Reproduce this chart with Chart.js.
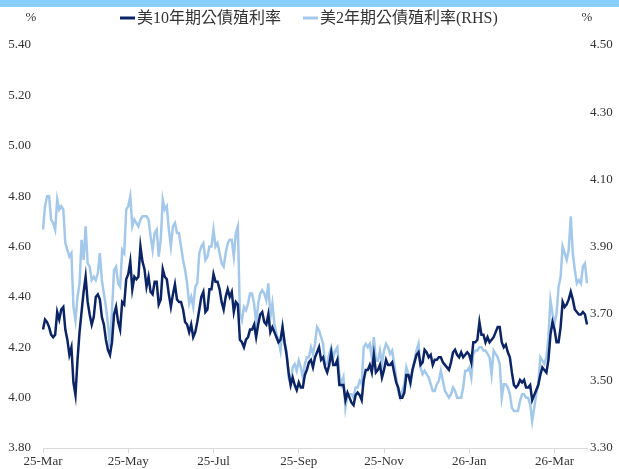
<!DOCTYPE html>
<html>
<head>
<meta charset="utf-8">
<script src="https://cdn.jsdelivr.net/npm/chart.js@4.4.1/dist/chart.umd.min.js"></script>
<style>
  html, body { margin: 0; padding: 0; background: #fff; }
  #topband { height: 7px; background: #87cefa; }
  #wrap { width: 619px; height: 462px; position: relative; }
</style>
</head>
<body>
<div id="topband"></div>
<div id="wrap"><canvas id="myChart"></canvas></div>
<script>
// daily closes, 2025-03-13 .. 2026-04
const tickLabels = ['25-Mar', '25-May', '25-Jul', '25-Sep', '25-Nov', '26-Jan', '26-Mar'];
const tickStep = 42;

const yield10y = [
  4.27, 4.31, 4.30, 4.28, 4.25, 4.24, 4.25, 4.34, 4.31, 4.35,
  4.36, 4.27, 4.23, 4.17, 4.20, 4.06, 4.01, 4.15, 4.26, 4.34,
  4.42, 4.48, 4.38, 4.33, 4.29, 4.32, 4.40, 4.41, 4.39, 4.32,
  4.29, 4.23, 4.19, 4.17, 4.22, 4.33, 4.36, 4.30, 4.27, 4.38,
  4.37, 4.47, 4.49, 4.54, 4.43, 4.48, 4.47, 4.48, 4.60, 4.54,
  4.51, 4.44, 4.48, 4.42, 4.41, 4.46, 4.46, 4.37, 4.39, 4.51,
  4.48, 4.47, 4.41, 4.36, 4.41, 4.45, 4.39, 4.38, 4.38, 4.35,
  4.30, 4.29, 4.26, 4.29, 4.24, 4.26, 4.30, 4.35, 4.40, 4.42,
  4.34, 4.35, 4.43, 4.43, 4.49, 4.46, 4.46, 4.43, 4.38, 4.35,
  4.40, 4.43, 4.40, 4.42, 4.34, 4.38, 4.37, 4.23, 4.22, 4.20,
  4.23, 4.24, 4.27, 4.27, 4.29, 4.24, 4.29, 4.33, 4.34, 4.30,
  4.29, 4.33, 4.26, 4.28, 4.26, 4.24, 4.22, 4.23, 4.28, 4.22,
  4.17, 4.10, 4.05, 4.08, 4.05, 4.03, 4.06, 4.04, 4.04, 4.09,
  4.11, 4.14, 4.15, 4.12, 4.16, 4.18, 4.20, 4.15, 4.16, 4.12,
  4.10, 4.13, 4.18, 4.13, 4.13, 4.15, 4.05, 4.05, 4.05, 3.99,
  4.02, 4.00, 3.98, 3.97, 4.01, 4.02, 4.01, 3.99, 4.07, 4.11,
  4.11, 4.13, 4.10, 4.17, 4.10, 4.11, 4.13, 4.08, 4.11, 4.15,
  4.13, 4.13, 4.14, 4.10, 4.06, 4.04, 4.00, 4.00, 4.02, 4.09,
  4.09, 4.06, 4.11, 4.14, 4.17, 4.18, 4.13, 4.14, 4.19, 4.18,
  4.16, 4.17, 4.13, 4.15, 4.15, 4.16, 4.16, 4.14, 4.13, 4.12,
  4.11, 4.14, 4.18, 4.19, 4.17, 4.16, 4.18, 4.16, 4.17, 4.18,
  4.17, 4.14, 4.22, 4.22, 4.23, 4.30, 4.25, 4.25, 4.22, 4.24,
  4.22, 4.23, 4.24, 4.26, 4.28, 4.28, 4.22, 4.20, 4.21, 4.18,
  4.16, 4.10, 4.05, 4.04, 4.05, 4.07, 4.06, 4.07, 4.04, 4.04,
  4.05, 3.99, 4.01, 4.03, 4.05, 4.09, 4.12, 4.11, 4.10, 4.15,
  4.25, 4.30, 4.27, 4.22, 4.22, 4.28, 4.38, 4.36, 4.37, 4.39,
  4.42, 4.39, 4.35, 4.34, 4.33, 4.33, 4.34, 4.33, 4.29
];

const yield2y = [
  3.95, 4.02, 4.05, 4.05, 3.98, 3.97, 3.95, 4.04, 4.01, 4.02,
  4.01, 3.91, 3.89, 3.87, 3.88, 3.72, 3.68, 3.75, 3.79, 3.92,
  3.86, 3.96, 3.85, 3.84, 3.80, 3.81, 3.80, 3.82, 3.88, 3.80,
  3.76, 3.72, 3.67, 3.60, 3.71, 3.83, 3.84, 3.79, 3.78, 3.89,
  3.88, 4.01, 4.02, 4.05, 3.96, 3.98, 3.97, 3.96, 3.98, 3.99,
  3.99, 3.99, 3.98, 3.93, 3.89, 3.94, 3.95, 3.87, 3.92, 4.04,
  4.01, 4.02, 3.95, 3.90, 3.96, 3.97, 3.94, 3.94, 3.90, 3.86,
  3.83, 3.79, 3.73, 3.75, 3.72, 3.78, 3.79, 3.88, 3.90, 3.91,
  3.86, 3.87, 3.90, 3.90, 3.95, 3.90, 3.91, 3.88, 3.85, 3.84,
  3.88, 3.91, 3.92, 3.92, 3.87, 3.94, 3.96, 3.70, 3.68, 3.72,
  3.71, 3.73, 3.76, 3.76, 3.73, 3.67, 3.73, 3.76, 3.77, 3.76,
  3.74, 3.79, 3.69, 3.73, 3.67, 3.64, 3.62, 3.59, 3.66, 3.61,
  3.59, 3.51, 3.49, 3.54, 3.55, 3.53, 3.56, 3.54, 3.51, 3.55,
  3.57, 3.57, 3.60, 3.58, 3.61, 3.66, 3.65, 3.63, 3.61, 3.55,
  3.55, 3.58, 3.60, 3.57, 3.59, 3.60, 3.52, 3.49, 3.51, 3.42,
  3.46, 3.46, 3.46, 3.45, 3.48, 3.48, 3.50, 3.49, 3.60, 3.61,
  3.60, 3.61, 3.57, 3.63, 3.56, 3.56, 3.59, 3.55, 3.59, 3.61,
  3.60, 3.58, 3.59, 3.55, 3.51, 3.47, 3.45, 3.47, 3.49, 3.54,
  3.52, 3.49, 3.53, 3.56, 3.59, 3.61, 3.54, 3.52, 3.53, 3.52,
  3.51, 3.49, 3.47, 3.47, 3.49, 3.50, 3.53, 3.50, 3.47, 3.46,
  3.45, 3.46, 3.48, 3.47, 3.45, 3.45, 3.45, 3.48, 3.53, 3.53,
  3.54, 3.51, 3.58, 3.59, 3.59, 3.60, 3.60, 3.59, 3.59, 3.58,
  3.57, 3.52, 3.59, 3.58, 3.57, 3.55, 3.45, 3.49, 3.49, 3.48,
  3.46, 3.42, 3.41, 3.41, 3.41, 3.44, 3.46, 3.46, 3.45, 3.45,
  3.43, 3.38, 3.42, 3.46, 3.49, 3.57, 3.56, 3.55, 3.57, 3.63,
  3.74, 3.70, 3.67, 3.70, 3.78, 3.81, 3.90, 3.88, 3.86, 3.89,
  3.99, 3.88, 3.83, 3.79, 3.80, 3.79, 3.84, 3.85, 3.79
];

const labels = yield10y.map((v, i) => (i % tickStep === 0 ? tickLabels[i / tickStep] : ''));

const fontFamily = "'Liberation Serif', 'Noto Sans CJK TC', serif";
const textColor = '#333333';

// "%" unit labels and the line legend across the top
const topLabels = {
  id: 'topLabels',
  afterDraw(chart) {
    const ctx = chart.ctx;
    ctx.save();
    ctx.font = '13px ' + fontFamily;
    ctx.fillStyle = textColor;
    ctx.textAlign = 'center';
    ctx.textBaseline = 'middle';
    ctx.fillText('%', 31, 11);
    ctx.fillText('%', 587, 11);

    ctx.font = '16px ' + fontFamily;
    ctx.textAlign = 'left';
    let x = 120;
    const y = 11;
    chart.data.datasets.forEach((ds) => {
      ctx.strokeStyle = ds.borderColor;
      ctx.lineWidth = 3;
      ctx.beginPath();
      ctx.moveTo(x, y);
      ctx.lineTo(x + 15, y);
      ctx.stroke();
      ctx.fillStyle = textColor;
      ctx.fillText(ds.label, x + 17, y + 1);
      x += 17 + ctx.measureText(ds.label).width + 22;
    });
    ctx.restore();
  }
};

const ctx = document.getElementById('myChart').getContext('2d');
new Chart(ctx, {
  type: 'line',
  data: {
    labels: labels,
    datasets: [
      {
        label: '美10年期公債殖利率',
        data: yield10y,
        yAxisID: 'y',
        borderColor: '#0b2466',
        backgroundColor: '#0b2466',
        borderWidth: 2.5,
        pointRadius: 0,
        tension: 0
      },
      {
        label: '美2年期公債殖利率(RHS)',
        data: yield2y,
        yAxisID: 'y1',
        borderColor: '#a4c8ea',
        backgroundColor: '#a4c8ea',
        borderWidth: 2.5,
        pointRadius: 0,
        tension: 0
      }
    ]
  },
  options: {
    responsive: true,
    maintainAspectRatio: false,
    animation: false,
    layout: { padding: { top: 38, left: 0, right: 0, bottom: 0 } },
    plugins: {
      legend: { display: false },
      tooltip: { enabled: false }
    },
    scales: {
      x: {
        type: 'category',
        grid: {
          drawOnChartArea: false,
          tickLength: 5,
          color: (c) => (c.index % tickStep === 0 ? '#d9d9d9' : 'transparent')
        },
        border: { display: true, color: '#d9d9d9' },
        ticks: {
          autoSkip: false,
          maxRotation: 0,
          padding: 1,
          color: textColor,
          font: { family: fontFamily, size: 13 },
          callback: (v, i) => labels[i]
        },
        afterFit: (scale) => { scale.height = 21; }
      },
      y: {
        position: 'left',
        min: 3.8,
        max: 5.4,
        grid: { display: false, drawTicks: false },
        border: { display: false },
        ticks: {
          stepSize: 0.2,
          padding: 12,
          color: textColor,
          font: { family: fontFamily, size: 13 },
          callback: (v) => v.toFixed(2)
        },
        afterFit: (scale) => { scale.width = 43; }
      },
      y1: {
        position: 'right',
        min: 3.3,
        max: 4.5,
        grid: { display: false, drawTicks: false },
        border: { display: false },
        ticks: {
          stepSize: 0.2,
          padding: 3,
          color: textColor,
          font: { family: fontFamily, size: 13 },
          callback: (v) => v.toFixed(2)
        },
        afterFit: (scale) => { scale.width = 32; }
      }
    }
  },
  plugins: [topLabels]
});
</script>
</body>
</html>
